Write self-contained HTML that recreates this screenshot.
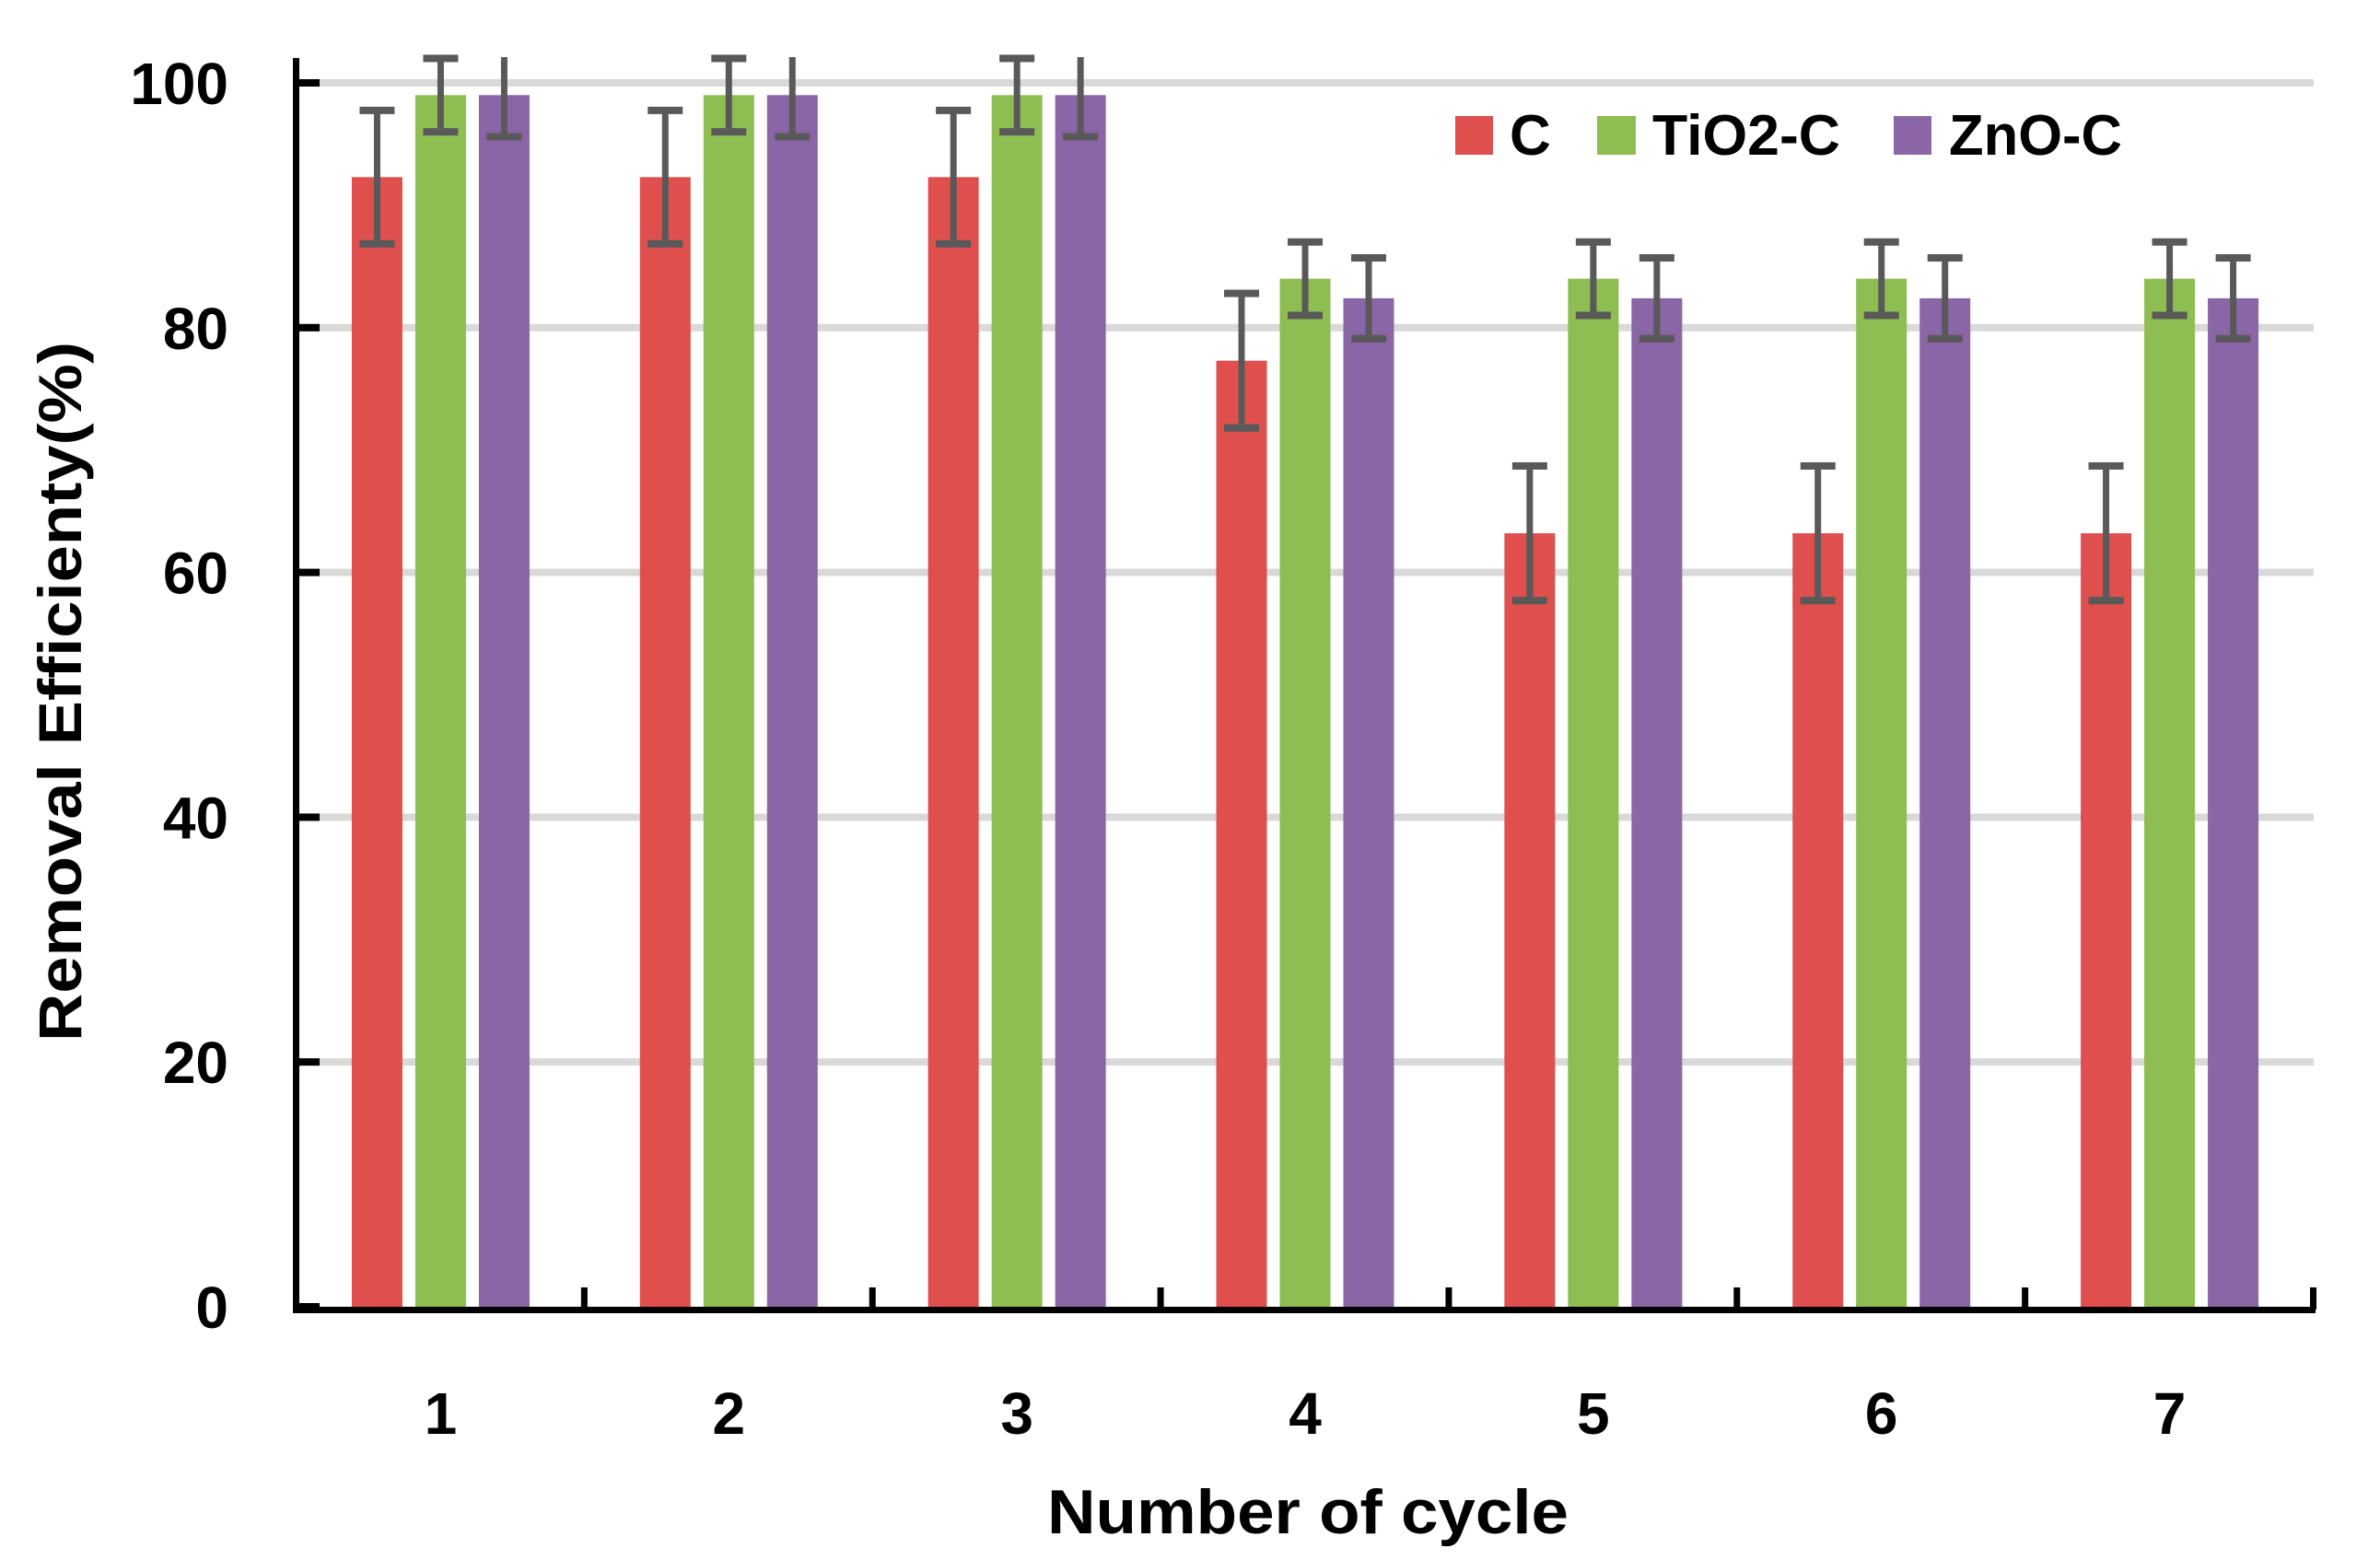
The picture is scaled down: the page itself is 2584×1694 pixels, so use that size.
<!DOCTYPE html>
<html><head><meta charset="utf-8">
<style>
html,body{margin:0;padding:0;background:#fff;}
svg{display:block;}
text{font-family:"Liberation Sans",sans-serif;font-weight:bold;fill:#000;}
</style></head>
<body>
<svg id="chart" width="2584" height="1694" xmlns="http://www.w3.org/2000/svg">
<g id="grid"></g>
<g id="bars"></g>
<g id="errs"></g>
<g id="axes"></g>
<text transform="translate(88,751) rotate(-90)" text-anchor="middle" font-size="66" textLength="760" lengthAdjust="spacingAndGlyphs">Removal Efficienty(%)</text>
<text x="1420" y="1665" text-anchor="middle" font-size="68" textLength="566" lengthAdjust="spacingAndGlyphs">Number of cycle</text>
<g>
<rect x="1580" y="126" width="41" height="42" fill="#de4f4e"/>
<text x="1639" y="168" font-size="62">C</text>
<rect x="1734" y="126" width="42" height="42" fill="#8ebd51"/>
<text x="1794" y="168" font-size="62" textLength="204" lengthAdjust="spacingAndGlyphs">TiO2-C</text>
<rect x="2056" y="126" width="41" height="42" fill="#8a66a6"/>
<text x="2116" y="168" font-size="62" textLength="188" lengthAdjust="spacingAndGlyphs">ZnO-C</text>
</g>
</svg>
<script>
const categories = ["1","2","3","4","5","6","7"];
const seriesNames = ["C","TiO2-C","ZnO-C"];
const valuesC = [92.3,92.3,92.3,77.3,63.2,63.2,63.2];
const valuesTiO2 = [99.0,99.0,99.0,84.0,84.0,84.0,84.0];
const valuesZnO = [99.0,99.0,99.0,82.4,82.4,82.4,82.4];
const errC = [5.45,5.45,5.45,5.5,5.5,5.5,5.5];
const errTiO2 = [3.0,3.0,3.0,3.0,3.0,3.0,3.0];
const errZnO = [3.4,3.4,3.4,3.3,3.3,3.3,3.3];
const yTicks = [0,20,40,60,80,100];

const NS="http://www.w3.org/2000/svg";
const X0=322, X1=2512, Y0=1419, Y100=90, TOP=62;
const colors=["#de4f4e","#8ebd51","#8a66a6"];
const catW=(X1-X0)/categories.length;
function yS(v){return Y0-(Y0-Y100)*v/100;}
function xC(i){return X0+catW*(i+0.5);}
function mk(tag,attrs,parent){const e=document.createElementNS(NS,tag);for(const k in attrs)e.setAttribute(k,attrs[k]);parent.appendChild(e);return e;}
const grid=document.getElementById('grid'),bars=document.getElementById('bars'),errs=document.getElementById('errs'),axes=document.getElementById('axes');

yTicks.forEach(t=>{
  if(t>0){const g=mk('rect',{x:X0,y:yS(t)-4,width:X1-X0,height:8,fill:'#d9d9d9'},grid);
  
  }
  const tk=mk('rect',{x:X0,y:yS(t)-4,width:25,height:8,fill:'#000'},axes);
  
  
  const lb=mk('text',{x:248,y:yS(t)+23,'text-anchor':'end','font-size':64},axes);
  lb.textContent=t;
  
  
});

const allVals=[valuesC,valuesTiO2,valuesZnO], allErr=[errC,errTiO2,errZnO];
const bw=55, pitch=69;
categories.forEach((c,i)=>{
  allVals.forEach((vals,s)=>{
    const cx=xC(i)+(s-1)*pitch;
    const r=mk('rect',{x:cx-bw/2,y:yS(vals[i]),width:bw,height:Y0-yS(vals[i]),fill:colors[s]},bars);
    
    
    const hi=vals[i]+allErr[s][i], lo=vals[i]-allErr[s][i];
    const yh=Math.max(TOP,yS(hi)), yl=yS(lo);
    const eg=mk('g',{fill:'#595959'},errs);
    
    
    mk('rect',{x:cx-3.5,y:yh,width:7,height:yl-yh},eg);
    if(yS(hi)>=TOP) mk('rect',{x:cx-19,y:yS(hi)-4,width:38,height:8},eg);
    mk('rect',{x:cx-19,y:yl-4,width:38,height:8},eg);
  });
  const xl=mk('text',{x:xC(i),y:1557,'text-anchor':'middle','font-size':64},axes);
  xl.textContent=c;
  
  
  const xt=mk('rect',{x:X0+catW*(i+1)-4,y:1398,width:7,height:24,fill:'#000'},axes);
  
  
});
const ya=mk('rect',{x:X0-4,y:63,width:7,height:Y0+7-63,fill:'#000'},axes);


const xa=mk('rect',{x:X0-4,y:Y0,width:X1-X0+6,height:7,fill:'#000'},axes);


</script>
</body></html>
